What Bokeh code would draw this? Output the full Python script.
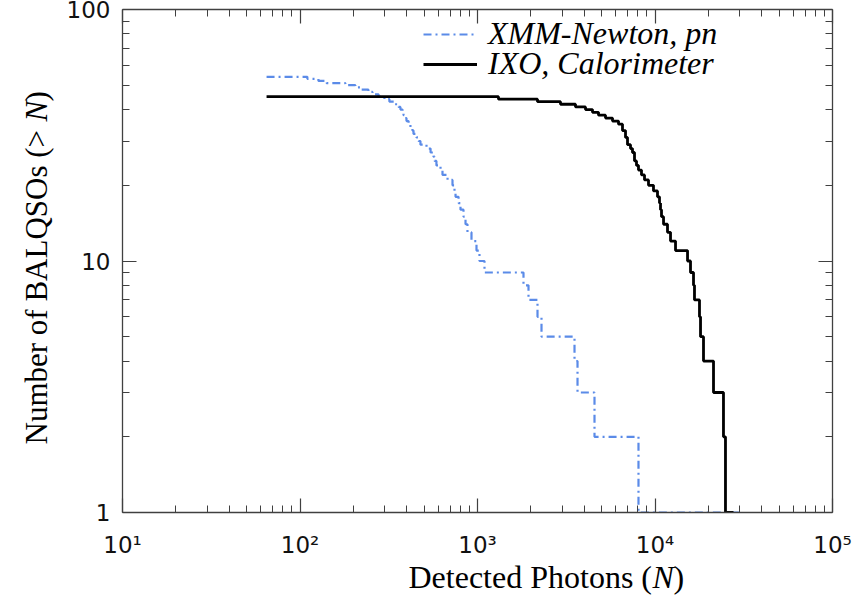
import math
from bokeh.plotting import figure
from bokeh.layouts import row, column
from bokeh.models import (LogAxis, FixedTicker, Label, Legend, LegendItem, Range1d)
from bokeh.embed import file_html
from bokeh.resources import INLINE

# ---- data ----
xmm_photons = [64.8, 110, 127, 141, 180, 205, 219, 243, 256, 277, 299, 319, 341, 359, 368,
               378, 383, 388, 398, 409, 419, 430, 436, 453, 465, 477, 516, 544, 565, 573,
               587, 619, 635, 678, 723, 742, 752, 782, 802, 834, 856, 878, 925, 987, 1026,
               1095, 1816, 1938, 2178, 2294, 3520, 3660, 4562, 8072, 31120]
xmm_count = [54, 53, 52, 51, 50, 49, 48, 47, 46, 45, 44, 43, 42, 41, 40,
             39, 38, 37, 36, 35, 34, 33, 32, 31, 30, 29, 28, 27, 26, 25,
             24, 23, 22, 21, 20, 19, 18, 17, 16, 15, 14, 13, 12, 11, 10,
             9, 8, 7, 6, 5, 4, 3, 2, 1, 1]

ixo_photons = [64.8, 1313, 2178, 2935, 3566, 4059, 4445, 4806, 5262, 5763, 6230, 6560, 6821,
               7000, 7278, 7468, 7665, 7866, 8072, 8393, 8728, 9192, 9806, 10330, 10600,
               10740, 10880, 11170, 11760, 12230, 13050, 15250, 15850, 16480, 16690, 17810,
               18050, 18760, 21360, 24310, 24950, 27690]
ixo_count = [45, 44, 43, 42, 41, 40, 39, 38, 37, 36, 35, 33, 31,
             29, 28, 27, 25, 24, 23, 22, 21, 20, 19, 18, 17,
             16, 15, 14, 13, 12, 11, 10, 9, 8, 7, 6,
             5, 4, 3, 2, 1, 1]

x_ticks = [10, 100, 1000, 10000, 100000]
x_tick_labels = ["10\u00b9", "10\u00b2", "10\u00b3", "10\u2074", "10\u2075"]
y_ticks = [1, 10, 100]
y_tick_labels = ["1", "10", "100"]
x_minor = [m * 10 ** k for k in range(1, 5) for m in range(2, 10)]
y_minor = [m * 10 ** k for k in range(0, 2) for m in range(2, 10)]

series_names = ["XMM-Newton, pn", "IXO, Calorimeter"]
series_colors = ["#5B8BE8", "#000000"]

SERIF = "Liberation Serif"
TICKFONT = "DejaVu Sans"
AXIS_COLOR = "#404040"

p = figure(width=800, height=560, x_axis_type="log", y_axis_type="log",
           x_range=Range1d(10, 1e5), y_range=Range1d(1, 100),
           output_backend="svg", toolbar_location=None,
           min_border_left=62, min_border_right=28, min_border_top=9, min_border_bottom=48)
p.xgrid.visible = False
p.ygrid.visible = False
p.outline_line_color = None
p.background_fill_color = "white"
p.border_fill_color = "white"


def style_axis(ax, show_labels):
    ax.axis_line_color = AXIS_COLOR
    ax.axis_line_width = 1.3
    ax.major_tick_line_color = AXIS_COLOR
    ax.minor_tick_line_color = AXIS_COLOR
    ax.major_tick_line_width = 1.2
    ax.minor_tick_line_width = 1.0
    ax.major_tick_in = 14
    ax.major_tick_out = 0
    ax.minor_tick_in = 7
    ax.minor_tick_out = 0
    ax.axis_label = None
    if show_labels:
        ax.major_label_text_font = TICKFONT
        ax.major_label_text_font_size = "23px"
        ax.major_label_text_color = "#111111"
    else:
        ax.major_label_text_font_size = "1px"
        ax.major_label_text_alpha = 0
        ax.major_label_standoff = 0


xa = p.xaxis[0]
xa.ticker = FixedTicker(ticks=x_ticks, minor_ticks=x_minor)
xa.major_label_overrides = {t: s for t, s in zip(x_ticks, x_tick_labels)}
style_axis(xa, True)
xa.major_label_standoff = 19

ya = p.yaxis[0]
ya.ticker = FixedTicker(ticks=y_ticks, minor_ticks=y_minor)
ya.major_label_overrides = {t: s for t, s in zip(y_ticks, y_tick_labels)}
style_axis(ya, True)
ya.major_label_standoff = 12

top = LogAxis(ticker=FixedTicker(ticks=x_ticks, minor_ticks=x_minor))
style_axis(top, False)
p.add_layout(top, "above")
right = LogAxis(ticker=FixedTicker(ticks=y_ticks, minor_ticks=y_minor))
style_axis(right, False)
p.add_layout(right, "right")

r_xmm = p.step(xmm_photons, xmm_count, mode="after", line_color=series_colors[0],
               line_width=2.2, line_dash="8 4 2 4")
r_ixo = p.step(ixo_photons, ixo_count, mode="after", line_color=series_colors[1],
               line_width=2.8)

# legends (one per row for precise placement)
for r, name, vy in [(r_xmm, series_names[0], 460), (r_ixo, series_names[1], 430)]:
    lg = Legend(items=[LegendItem(label=name, renderers=[r])], location=(301, vy),
                orientation="vertical", padding=0, margin=0, spacing=0,
                glyph_width=54, glyph_height=30, label_height=30, label_standoff=11,
                label_text_font=SERIF, label_text_font_style="italic",
                label_text_font_size="32px", label_text_color="#000000",
                border_line_color=None, background_fill_alpha=0)
    p.add_layout(lg, "center")


def label_fig(w, h):
    f = figure(width=w, height=h, x_range=Range1d(0, 1), y_range=Range1d(0, 1),
               output_backend="svg", toolbar_location=None,
               x_axis_location=None, y_axis_location=None,
               min_border_left=0, min_border_right=0, min_border_top=0, min_border_bottom=0)
    f.xgrid.visible = False
    f.ygrid.visible = False
    f.outline_line_color = None
    f.background_fill_color = "white"
    f.border_fill_color = "white"
    return f


def lab(f, text, x, y, angle=0.0, italic=False, size="32px"):
    f.add_layout(Label(x=x, y=y, x_units="screen", y_units="screen", text=text,
                       angle=angle, text_font=SERIF, text_font_size=size,
                       text_font_style="italic" if italic else "normal",
                       text_color="#000000", text_align="left", text_baseline="alphabetic"))


# x-axis title (with italic N)
fx = label_fig(800, 40)
lab(fx, "Detected Photons (", 286, 24)
lab(fx, "N", 530, 24, italic=True)
lab(fx, ")", 551, 24)

# y-axis title (with italic N), reading upward
fy = label_fig(60, 600)
lab(fy, "Number of BALQSOs (> ", 36, 156, angle=math.pi / 2, size="31px")
lab(fy, "N", 36, 479, angle=math.pi / 2, italic=True, size="31px")
lab(fy, ")", 36, 499, angle=math.pi / 2, size="31px")

layout = row(fy, column(p, fx, spacing=0), spacing=0)

open("out.html", "w").write(file_html(layout, INLINE))
